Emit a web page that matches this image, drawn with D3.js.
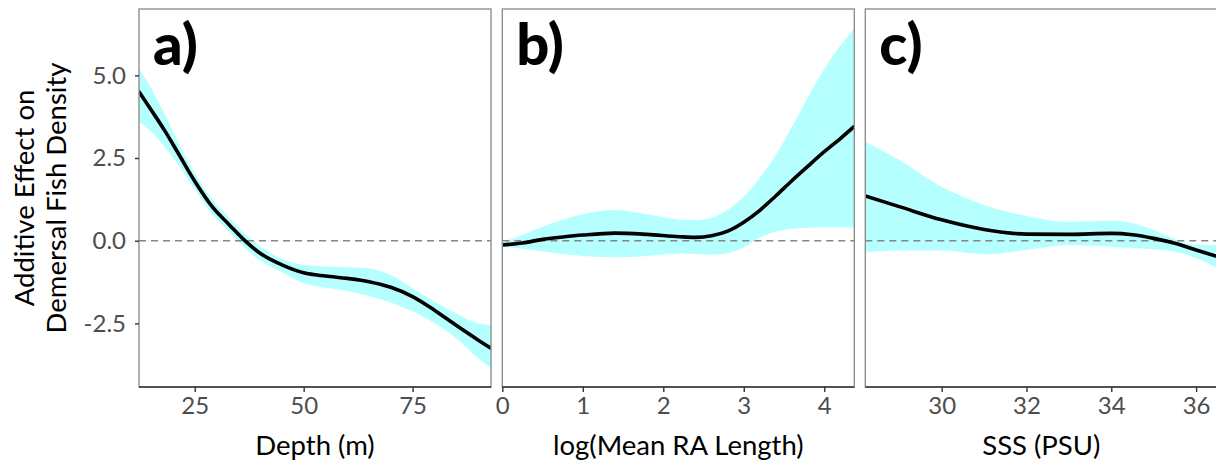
<!DOCTYPE html>
<html>
<head>
<meta charset="utf-8">
<script src="https://cdn.jsdelivr.net/npm/d3@7"></script>
<style>
  body { margin: 0; background: #fff; }
  svg { display: block; }
</style>
</head>
<body>
<svg></svg>
<script>
// partial effect curves
let depthX = [12.2, 15, 18, 21, 25, 29, 33, 36.5, 40, 45, 50, 55, 60, 65, 70, 75, 80, 85, 90, 93];
let depthFit = [4.5, 3.95, 3.35, 2.69, 1.8, 1.03, 0.47, 0, -0.38, -0.73, -0.97, -1.07, -1.14, -1.24, -1.41, -1.69, -2.1, -2.56, -3.0, -3.25];
let depthUpper = [5.21, 4.61, 3.85, 3.04, 2.05, 1.25, 0.69, 0.22, -0.16, -0.55, -0.73, -0.78, -0.8, -0.84, -1.04, -1.44, -1.84, -2.2, -2.5, -2.55];
let depthLower = [3.6, 3.3, 2.85, 2.34, 1.55, 0.81, 0.25, -0.22, -0.6, -0.95, -1.29, -1.42, -1.52, -1.67, -1.87, -2.14, -2.49, -2.95, -3.55, -3.86];

let raX = [0, 0.25, 0.5, 0.75, 1, 1.4, 1.8, 2.2, 2.4, 2.6, 2.8, 3, 3.2, 3.4, 3.6, 3.8, 4, 4.2, 4.37];
let raFit = [-0.13, -0.07, 0.04, 0.11, 0.17, 0.23, 0.19, 0.12, 0.1, 0.15, 0.29, 0.56, 0.92, 1.36, 1.82, 2.26, 2.69, 3.09, 3.45];
let raUpper = [-0.05, 0.17, 0.42, 0.63, 0.8, 0.93, 0.8, 0.64, 0.62, 0.7, 0.93, 1.33, 1.9, 2.6, 3.45, 4.35, 5.2, 5.9, 6.42];
let raLower = [-0.18, -0.25, -0.33, -0.4, -0.46, -0.5, -0.46, -0.39, -0.4, -0.42, -0.38, -0.2, 0.1, 0.28, 0.36, 0.39, 0.4, 0.4, 0.4];

let sssX = [28.2, 29, 30, 31, 32, 33, 34, 34.5, 35, 35.5, 36, 36.5];
let sssFit = [1.35, 1.03, 0.63, 0.34, 0.2, 0.19, 0.22, 0.18, 0.07, -0.08, -0.28, -0.48];
let sssUpper = [2.99, 2.44, 1.63, 1.08, 0.75, 0.57, 0.6, 0.53, 0.32, 0.05, -0.13, -0.13];
let sssLower = [-0.36, -0.3, -0.3, -0.41, -0.28, -0.13, -0.18, -0.22, -0.26, -0.33, -0.53, -0.83];

let depthTicks = [25, 50, 75];
let raTicks = [0, 1, 2, 3, 4];
let sssTicks = [30, 32, 34, 36];
let yTicks = [-2.5, 0, 2.5, 5];

let panelLabels = ["a)", "b)", "c)"];
let xTitles = ["Depth (m)", "log(Mean RA Length)", "SSS (PSU)"];
let yTitle = ["Additive Effect on", "Demersal Fish Density"];

let width = 1216;
let height = 466;
let plotTop = 9;
let plotBottom = 387;
let panelW = 352;
let font = "Lato, 'Open Sans', sans-serif";

let svg = d3.select("svg").attr("width", width).attr("height", height);

let yScale = d3.scaleLinear().domain([-4.424, 7.006]).range([plotBottom, plotTop]);

let panels = [
  { left: 139, domain: [12.2, 93], xs: depthX, fit: depthFit, up: depthUpper, lo: depthLower, ticks: depthTicks },
  { left: 502.3, domain: [0, 4.373], xs: raX, fit: raFit, up: raUpper, lo: raLower, ticks: raTicks },
  { left: 865.3, domain: [28.2, 36.5], xs: sssX, fit: sssFit, up: sssUpper, lo: sssLower, ticks: sssTicks }
];

let drawPanel = (p, i) => {
  let xScale = d3.scaleLinear().domain(p.domain).range([p.left, p.left + panelW]);
  let g = svg.append("g");

  g.append("clipPath")
    .attr("id", "clip" + i)
    .append("rect")
    .attr("x", p.left)
    .attr("y", plotTop)
    .attr("width", panelW)
    .attr("height", plotBottom - plotTop);

  let rows = p.xs.map((x, k) => ({ x: x, fit: p.fit[k], up: p.up[k], lo: p.lo[k] }));

  let area = d3.area()
    .x((d) => xScale(d.x))
    .y0((d) => yScale(d.lo))
    .y1((d) => yScale(d.up))
    .curve(d3.curveMonotoneX);
  let line = d3.line()
    .x((d) => xScale(d.x))
    .y((d) => yScale(d.fit))
    .curve(d3.curveMonotoneX);

  let plot = g.append("g").attr("clip-path", `url(#clip${i})`);
  plot.append("path").attr("d", area(rows)).attr("fill", "#b5ffff");
  plot.append("line")
    .attr("x1", p.left).attr("x2", p.left + panelW)
    .attr("y1", yScale(0)).attr("y2", yScale(0))
    .attr("stroke", "#858585").attr("stroke-width", 1.5)
    .attr("stroke-dasharray", "7,5");
  plot.append("path").attr("d", line(rows))
    .attr("fill", "none").attr("stroke", "#000").attr("stroke-width", 3.6)
    .attr("stroke-linecap", "round");

  // panel border
  g.append("rect")
    .attr("x", p.left).attr("y", plotTop)
    .attr("width", panelW).attr("height", plotBottom - plotTop)
    .attr("fill", "none").attr("stroke", "#8f8f8f").attr("stroke-width", 1.4);

  let xAxis = d3.axisBottom(xScale).tickValues(p.ticks).tickSize(5).tickPadding(5).tickFormat(d3.format("d"));
  let ax = g.append("g").attr("transform", `translate(0, ${plotBottom})`).call(xAxis);
  ax.select(".domain").remove();
  ax.selectAll("line").attr("stroke", "#333").attr("stroke-width", 1.4);
  ax.selectAll("text").attr("font-family", font).attr("font-size", 24).attr("fill", "#4d4d4d");
  g.append("line")
    .attr("x1", p.left).attr("x2", p.left + panelW)
    .attr("y1", plotBottom).attr("y2", plotBottom)
    .attr("stroke", "#333").attr("stroke-width", 1.6);

  g.append("text")
    .attr("x", p.left + panelW / 2)
    .attr("y", 455)
    .attr("text-anchor", "middle")
    .attr("font-family", font)
    .attr("font-size", 27.5)
    .attr("fill", "#000")
    .text(xTitles[i]);

  g.append("text")
    .attr("x", p.left + 14)
    .attr("y", 65)
    .attr("font-family", font)
    .attr("font-weight", 900)
    .attr("font-size", 58)
    .attr("fill", "#000")
    .text(panelLabels[i]);
};

panels.forEach(drawPanel);

let yAxis = d3.axisLeft(yScale).tickValues(yTicks).tickSize(4).tickPadding(9).tickFormat((d) => d.toFixed(1));
let ay = svg.append("g").attr("transform", `translate(139, 0)`).call(yAxis);
ay.select(".domain").remove();
ay.selectAll("line").attr("stroke", "#333").attr("stroke-width", 1.4);
ay.selectAll("text").attr("font-family", font).attr("font-size", 24).attr("fill", "#4d4d4d");

let yt = svg.append("text")
  .attr("transform", `translate(0, ${(plotTop + plotBottom) / 2}) rotate(-90)`)
  .attr("text-anchor", "middle")
  .attr("font-family", font)
  .attr("font-size", 27.5)
  .attr("fill", "#000");
yt.append("tspan").attr("x", 0).attr("y", 34).text(yTitle[0]);
yt.append("tspan").attr("x", 0).attr("y", 66).text(yTitle[1]);
</script>
</body>
</html>
